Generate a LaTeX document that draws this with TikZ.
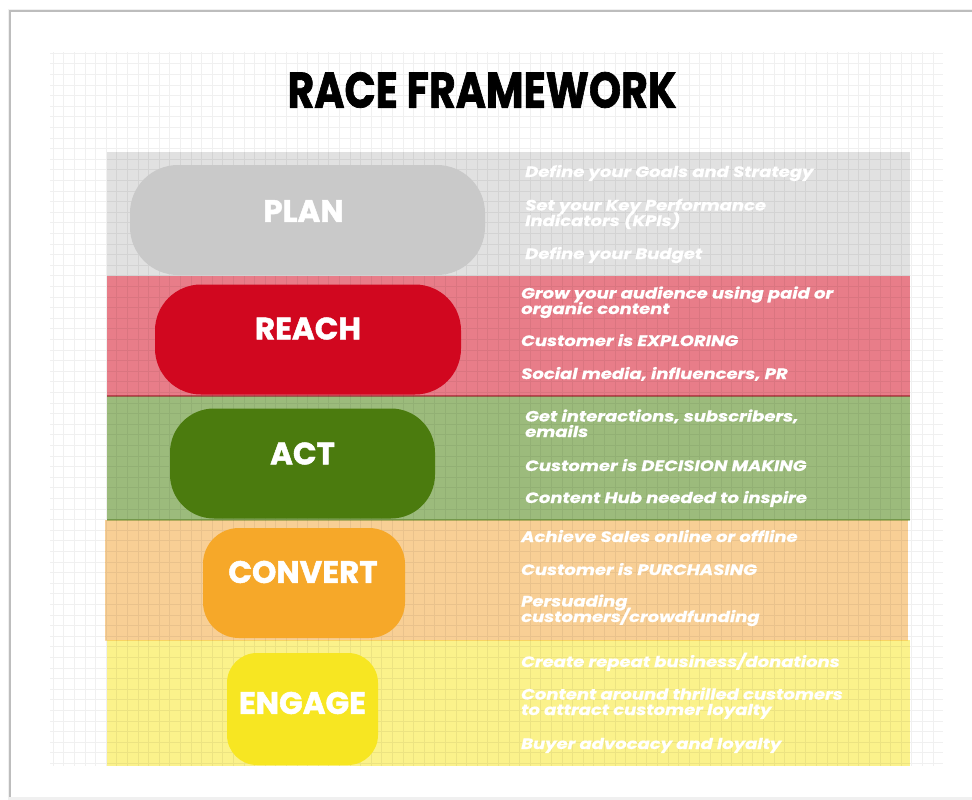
\documentclass[tikz,border=0pt]{standalone}
\usepackage{fontspec}
\usepackage{graphicx}
\setmainfont{Poppins}
\newfontfamily\heavyfont{Poppins}[FakeBold=1.5]
\newfontfamily\itemfont{Poppins}[FakeStretch=1.2, FakeBold=0.6]
\usetikzlibrary{calc}

\definecolor{paperedge}{HTML}{BDBDBD}
\definecolor{planband}{HTML}{E1E1E1}
\definecolor{planpill}{HTML}{C9C9C9}
\definecolor{reachband}{HTML}{E87D89}
\definecolor{reachpill}{HTML}{D1071F}
\definecolor{actband}{HTML}{9CBB7C}
\definecolor{actpill}{HTML}{4B7B0E}
\definecolor{convband}{HTML}{F8CF95}
\definecolor{convpill}{HTML}{F6A829}
\definecolor{engband}{HTML}{FBF28B}
\definecolor{engpill}{HTML}{F7E622}

\tikzset{
  band/.style={rectangle, inner sep=0pt, outer sep=0pt, anchor=north west},
  pill/.style={rectangle, inner sep=0pt, outer sep=0pt},
  pilllabel/.style={text=white, font={\heavyfont\bfseries\fontsize{31}{31}\selectfont}},
  item/.style={anchor=base west, align=left, inner sep=0pt, text=white,
    font={\itemfont\bfseries\itshape\fontsize{15}{15.5}\selectfont\lineskiplimit=-100pt\lineskip=0pt}},
  title/.style={text=black, font={\heavyfont\bfseries\fontsize{50}{50}\selectfont}}
}

\begin{document}
\begin{tikzpicture}[x=1pt,y=-1pt]
\useasboundingbox (0,0) rectangle (972,800);
\fill[white] (0,0) rectangle (972,800);

% sheet of paper with a soft edge
\fill[black!6] (8,9) rectangle (990,800);
\fill[white] (10,11) rectangle (990,797);
\draw[paperedge, line width=1.2pt] (10,797) -- (10,11) -- (990,11);

% bands
\node[band, fill=planband,  minimum width=803, minimum height=124] (planband)  at (107,152) {};
\node[band, fill=reachband, minimum width=803, minimum height=120] (reachband) at (107,276) {};
\node[band, fill=actband,   minimum width=803, minimum height=124] (actband)   at (107,396) {};
\node[band, fill=convband,  minimum width=803, minimum height=120] (convband)  at (105,520) {};
\node[band, fill=engband,   minimum width=803, minimum height=126] (engband)   at (107,640) {};
\draw[reachpill!70!black, opacity=0.5, line width=1.5pt] (reachband.south west) -- (reachband.south east);
\draw[actpill, opacity=0.4, line width=1.5pt] (actband.south west) -- (actband.south east);
\draw[convpill, opacity=0.4, line width=1pt] (convband.south west) -- (convband.south east);

% graph paper
\draw[black, opacity=0.06, line width=0.5pt, xstep=10.6pt, ystep=10.6pt] (50,52) grid (943,766);

% stage pills
\node[pill, fill=planpill,  rounded corners=48, minimum width=355, minimum height=110] (planpill)  at (307.5,220) {};
\node[pill, fill=reachpill, rounded corners=46, minimum width=306, minimum height=110] (reachpill) at (308,339.5) {};
\node[pill, fill=actpill,   rounded corners=44, minimum width=265, minimum height=110] (actpill)   at (302.5,463.5) {};
\node[pill, fill=convpill,  rounded corners=36, minimum width=202, minimum height=110] (convpill)  at (304,583) {};
\node[pill, fill=engpill,   rounded corners=30, minimum width=151, minimum height=112] (engpill)   at (302.5,709) {};

\node[pilllabel] (planlbl)  at ($(planpill.center)+(-4,-9)$) {PLAN};
\node[pilllabel] (reachlbl) at ($(reachpill.center)+(0,-11)$) {REACH};
\node[pilllabel] (actlbl)   at ($(actpill.center)+(0,-10)$) {ACT};
\node[pilllabel] (convlbl)  at ($(convpill.center)+(-1,-11)$) {CONVERT};
\node[pilllabel] (englbl)   at ($(engpill.center)+(0,-6)$) {ENGAGE};

% title
\node[title] (title) at (482,90) {\scalebox{0.82}[1]{RACE FRAMEWORK}};

% plan (two-line items are placed by their last baseline)
\node[item] (p1) at (525,177) {Define your Goals and Strategy};
\node[item] (p2) at (525,226) {Set your Key Performance\\Indicators (KPIs)};
\node[item] (p3) at (525,259) {Define your Budget};
% reach
\node[item] (r1) at (521,314) {Grow your audience using paid or\\organic content};
\node[item] (r2) at (521,346) {Customer is EXPLORING};
\node[item] (r3) at (521,379) {Social media, influencers, PR};
% act
\node[item] (a1) at (525,437) {Get interactions, subscribers,\\emails};
\node[item] (a2) at (525,471) {Customer is DECISION MAKING};
\node[item] (a3) at (525,503) {Content Hub needed to inspire};
% convert
\node[item] (c1) at (521,542) {Achieve Sales online or offline};
\node[item] (c2) at (521,575) {Customer is PURCHASING};
\node[item] (c3) at (521,622) {Persuading\\customers/crowdfunding};
% engage
\node[item] (e1) at (521,667) {Create repeat business/donations};
\node[item] (e2) at (521,715) {Content around thrilled customers\\to attract customer loyalty};
\node[item] (e3) at (521,749) {Buyer advocacy and loyalty};
\end{tikzpicture}
\end{document}
